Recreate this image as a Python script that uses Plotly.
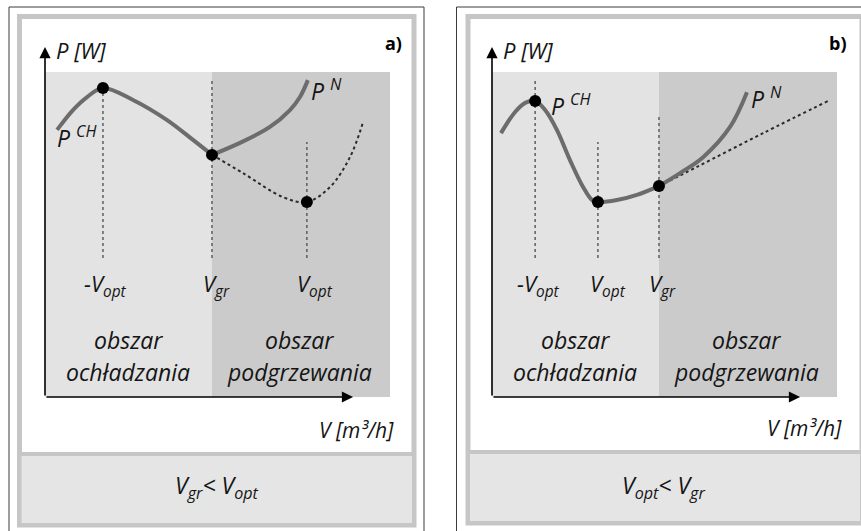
import plotly.graph_objects as go

W, H = 861, 531

# ---------------- data (conceptual units: V 0..10, P 0..10) ----------------
# Panel a)  V_gr < V_opt
a_pch_v = [0.35, 0.81, 1.22, 1.68, 2.55, 3.54, 4.29, 4.84]
a_pch_p = [8.22, 8.83, 9.23, 9.51, 9.14, 8.52, 7.91, 7.45]
a_pn_v = [4.84, 5.65, 6.52, 7.10, 7.39, 7.62]
a_pn_p = [7.45, 7.82, 8.31, 8.83, 9.23, 9.75]
a_dot_v = [4.84, 5.74, 6.90, 7.59, 8.26, 8.84, 9.22]
a_dot_p = [7.45, 6.89, 6.15, 6.00, 6.46, 7.38, 8.46]
a_pts_v = [1.68, 4.84, 7.59]
a_pts_p = [9.51, 7.45, 6.00]
a_guide_top = [9.45, 9.75, 7.85]
a_tick_labels = ["-V<sub>opt</sub>", "V<sub>gr</sub>", "V<sub>opt</sub>"]
a_vgr = 4.84
a_caption = "V<sub>gr</sub>&lt; V<sub>opt</sub>"

# Panel b)  V_opt < V_gr
b_pch_v = [0.26, 0.67, 0.96, 1.25, 1.54, 1.88, 2.26, 2.64, 2.90, 3.07, 3.62, 4.20, 4.84]
b_pch_p = [8.12, 8.77, 9.05, 9.11, 8.83, 8.22, 7.29, 6.46, 6.06, 6.00, 6.06, 6.22, 6.49]
b_pn_v = [4.84, 5.45, 6.12, 6.90, 7.39]
b_pn_p = [6.49, 6.89, 7.38, 8.31, 9.38]
b_dot_v = [4.84, 5.94, 7.86, 9.80]
b_dot_p = [6.49, 7.08, 8.12, 9.14]
b_pts_v = [1.25, 3.07, 4.84]
b_pts_p = [9.11, 6.00, 6.49]
b_guide_top = [9.75, 7.85, 8.68]
b_tick_labels = ["-V<sub>opt</sub>", "V<sub>opt</sub>", "V<sub>gr</sub>"]
b_vgr = 4.84
b_caption = "V<sub>opt</sub>&lt; V<sub>gr</sub>"

guide_bottom = 4.28
region_left = ["obszar", "ochładzania"]
region_right = ["obszar", "podgrzewania"]
y_label = "P [W]"
x_label = "V [m³/h]"

# ---------------- helpers ----------------
def X(px):
    return px / W

def Y(py):
    return 1 - py / H

FONT = "Open Sans"
CURVE = "#6c6c6c"
TXT = "#151515"

fig = go.Figure()

shapes = []
annotations = []

panels = [
    dict(xa="x", ya="y", pch=(a_pch_v, a_pch_p), pn=(a_pn_v, a_pn_p), dot=(a_dot_v, a_dot_p),
         pts=(a_pts_v, a_pts_p), gtop=a_guide_top, ticks=a_tick_labels, vgr=a_vgr,
         cap=a_caption, tick_shift=[3, 5, 8], letter="a)", letter_x=393,
         pch_lab=(0.28, 8.05), pn_lab=(7.66, 9.45), cap_x=217, xlab_right=396, xlab_y=430,
         outer=(9, 424, 7), inner=(19.5, 414, 16.5, 525), box=(454, 525)),
    dict(xa="x2", ya="y2", pch=(b_pch_v, b_pch_p), pn=(b_pn_v, b_pn_p), dot=(b_dot_v, b_dot_p),
         pts=(b_pts_v, b_pts_p), gtop=b_guide_top, ticks=b_tick_labels, vgr=b_vgr,
         cap=b_caption, tick_shift=[3, 10, 4], letter="b)", letter_x=838,
         pch_lab=(1.66, 9.05), pn_lab=(7.45, 9.2), cap_x=663, xlab_right=844, xlab_y=428,
         outer=(456.5, 900, 7), inner=(468, 862, 16.5, 523), box=(452, 523)),
]

for pn in panels:
    xa, ya = pn["xa"], pn["ya"]
    xref, yref = xa, ya
    # frames
    ox0, ox1, oy0 = pn["outer"]
    shapes.append(dict(type="rect", xref="paper", yref="paper", x0=X(ox0), x1=X(ox1),
                       y0=Y(560), y1=Y(oy0), line=dict(color="#3a3a3a", width=1),
                       fillcolor="white", layer="below"))
    ix0, ix1, iy0, iy1 = pn["inner"]
    shapes.append(dict(type="rect", xref="paper", yref="paper", x0=X(ix0), x1=X(ix1),
                       y0=Y(iy1), y1=Y(iy0), line=dict(color="#c6c6c6", width=5),
                       fillcolor="white", layer="below"))
    by0, by1 = pn["box"]
    shapes.append(dict(type="rect", xref="paper", yref="paper", x0=X(ix0), x1=X(ix1),
                       y0=Y(by1), y1=Y(by0), line=dict(color="#c6c6c6", width=4),
                       fillcolor="#e5e5e5", layer="below"))
    # shaded regions
    shapes.append(dict(type="rect", xref=xref, yref=yref, x0=0, x1=pn["vgr"], y0=0, y1=10,
                       line=dict(width=0), fillcolor="#e3e3e3", layer="below"))
    shapes.append(dict(type="rect", xref=xref, yref=yref, x0=pn["vgr"], x1=10, y0=0, y1=10,
                       line=dict(width=0), fillcolor="#cbcbcb", layer="below"))

    # guides
    for gv, gt in zip(pn["pts"][0], pn["gtop"]):
        fig.add_trace(go.Scatter(x=[gv, gv], y=[guide_bottom, gt], mode="lines",
                                 line=dict(color="#555555", width=1.4, dash="dot"),
                                 xaxis=xa, yaxis=ya, hoverinfo="skip", showlegend=False))
    # dotted curve
    fig.add_trace(go.Scatter(x=pn["dot"][0], y=pn["dot"][1], mode="lines",
                             line=dict(color="#2a2a2a", width=2, dash="dot", shape="spline"),
                             xaxis=xa, yaxis=ya, hoverinfo="skip", showlegend=False))
    # solid curves
    for cv, cp in (pn["pch"], pn["pn"]):
        fig.add_trace(go.Scatter(x=cv, y=cp, mode="lines",
                                 line=dict(color=CURVE, width=4, shape="spline", smoothing=1.0),
                                 xaxis=xa, yaxis=ya, hoverinfo="skip", showlegend=False))
    # points
    fig.add_trace(go.Scatter(x=pn["pts"][0], y=pn["pts"][1], mode="markers",
                             marker=dict(color="black", size=12),
                             xaxis=xa, yaxis=ya, hoverinfo="skip", showlegend=False))

    # axes arrows
    annotations.append(dict(xref=xref, yref=yref, x=0, y=10.77, axref=xref, ayref=yref,
                            ax=0, ay=0, text="", showarrow=True, arrowhead=2, arrowsize=1.4,
                            arrowwidth=1.6, arrowcolor="black"))
    annotations.append(dict(xref=xref, yref=yref, x=8.93, y=0, axref=xref, ayref=yref,
                            ax=0, ay=0, text="", showarrow=True, arrowhead=2, arrowsize=1.4,
                            arrowwidth=1.6, arrowcolor="black"))

    big = dict(family=FONT, size=23, color=TXT, style="italic")
    # axis titles
    annotations.append(dict(xref=xref, yref=yref, x=0.25, y=10.0, yshift=22, text=y_label,
                            showarrow=False, xanchor="left", yanchor="middle",
                            font=dict(family=FONT, size=22, color=TXT, style="italic")))
    annotations.append(dict(xref="paper", yref="paper", x=X(pn["xlab_right"]), y=Y(pn["xlab_y"]),
                            text=x_label, showarrow=False, xanchor="right", yanchor="middle",
                            font=dict(family=FONT, size=21, color=TXT, style="italic")))
    # panel letter
    annotations.append(dict(xref="paper", yref="paper", x=X(pn["letter_x"]),
                            y=Y(43), text=pn["letter"], showarrow=False,
                            xanchor="center", yanchor="middle",
                            font=dict(family=FONT, size=18, color="black", weight="bold")))
    # curve labels
    lx, ly = pn["pch_lab"]
    annotations.append(dict(xref=xref, yref=yref, x=lx, y=ly, yshift=-2, text="P <sup>CH</sup>",
                            showarrow=False, xanchor="left", yanchor="middle", font=big))
    nx, ny = pn["pn_lab"]
    annotations.append(dict(xref=xref, yref=yref, x=nx, y=ny, text="P <sup>N</sup>",
                            showarrow=False, xanchor="left", yanchor="middle", font=big))
    # tick labels
    for gv, lab, sh in zip(pn["pts"][0], pn["ticks"], pn["tick_shift"]):
        annotations.append(dict(xref=xref, yref=yref, x=gv, y=3.45, xshift=sh, text=lab,
                                showarrow=False, xanchor="center", yanchor="middle",
                                font=dict(family=FONT, size=22, color=TXT, style="italic")))
    # region labels
    for cx, lines in ((2.42, region_left), (7.39, region_right)):
        for ly2, txt in zip((1.75, 0.78), lines):
            annotations.append(dict(xref=xref, yref=yref, x=cx, y=ly2, text=txt,
                                    showarrow=False, xanchor="center", yanchor="middle", font=big))
    # caption
    annotations.append(dict(xref="paper", yref="paper", x=X(pn["cap_x"]), y=Y(486),
                            text=pn["cap"], showarrow=False, xanchor="center", yanchor="middle",
                            font=big))

ax_common = dict(range=[0, 10], visible=False, fixedrange=True)
fig.update_layout(
    width=W, height=H,
    margin=dict(l=0, r=0, t=0, b=0),
    paper_bgcolor="white", plot_bgcolor="rgba(0,0,0,0)",
    xaxis=dict(domain=[X(45), X(390)], **ax_common),
    yaxis=dict(domain=[Y(397), Y(72)], **ax_common),
    xaxis2=dict(domain=[X(492), X(837)], **ax_common),
    yaxis2=dict(domain=[Y(397), Y(72)], **ax_common),
    shapes=shapes,
    annotations=annotations,
    showlegend=False,
)

fig.write_html("out.html", config={"displayModeBar": False},
               post_script="document.body.style.margin='0';document.body.style.overflow='hidden';")
